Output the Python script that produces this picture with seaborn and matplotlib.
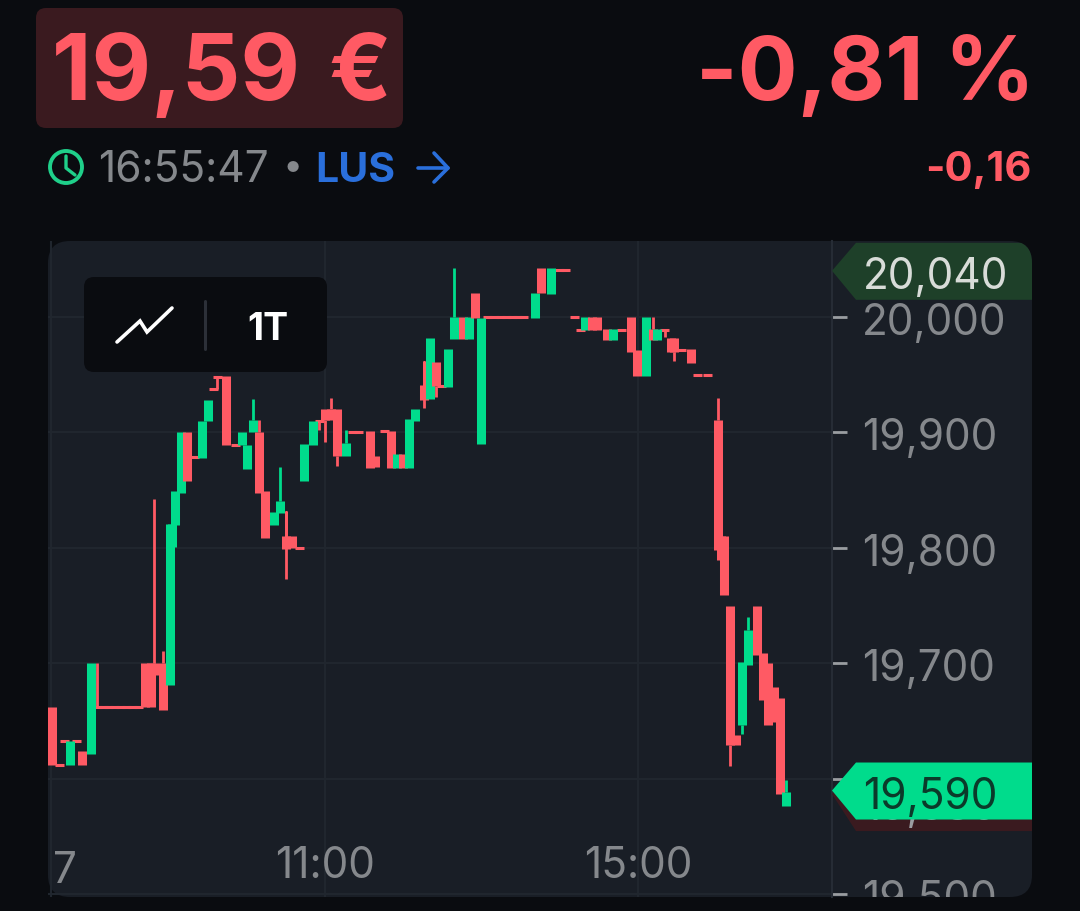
import matplotlib
matplotlib.use("Agg")
import matplotlib.pyplot as plt
from matplotlib.patches import FancyBboxPatch, Polygon, Circle, Rectangle
from matplotlib.transforms import Bbox, TransformedBbox, Affine2D
import pandas as pd
import seaborn as sns

# candles (slot = candle position, left to right)
slots = [0, 1.3, 2, 3, 4, 5, 6.5, 7.5, 8.5, 9.4, 10.4, 11.4, 12.4, 13.4, 14.3, 15.4, 16.4, 16.9, 18.4, 19.5,
         19.9, 20.4, 21.4, 22.4, 23.7, 24.9, 25.9, 26.8, 27.4, 28.9, 30.4, 31.5, 32.3, 33.3, 34.3, 35.4, 36.8, 37.8, 38.8, 39.8,
         41, 41.8, 43.3, 44.3, 45.2, 46.2, 47.2, 48.7, 49.9, 50.9, 52.7, 53.6, 55.1, 56.2, 57.2, 58.2, 59.2, 60.2, 61.7, 62.7,
         63.6, 64.6, 65.6, 66.6, 68.1, 69.2, 70.1, 71.1, 72.3, 73.3, 74.3, 75.3, 76.3, 77.2, 78.2, 80.1, 81.1, 82.8, 84.1, 85.2,
         86.6, 87.6, 88.4, 89.5, 90.4, 92, 93, 94.5, 96, 97, 98.5, 99.6, 100.4, 101.6, 102.7, 103.2, 104.4, 105.9, 107.1, 108.7,
         110.4, 110.9, 111.4, 112.4, 113.4, 114.4, 115.4, 116.9, 117.9, 118.8, 119.8, 120.8, 121.8]
opens = [19662, 19612, 19633, 19612, 19633, 19624, 19622, 19662, 19662, 19662, 19662, 19662, 19662, 19662, 19662, 19700, 19700, 19700, 19700, 19681,
         19801, 19820, 19848, 19900, 19879, 19878, 19910, 19938, 19948, 19949, 19889, 19889, 19868, 19900, 19900, 19849, 19820, 19830, 19810, 19810,
         19800, 19858, 19889, 19910, 19920, 19920, 19920, 19880, 19900, 19900, 19901, 19880, 19901, 19901, 19869, 19881, 19869, 19910, 19941, 19929,
         19961, 19940, 19939, 19981, 20000, 19981, 20021, 19890, 20000, 20000, 20000, 20000, 20000, 20000, 20000, 19999, 20042, 20020, 20041, 20041,
         20000, 19989, 19989, 20000, 20000, 19990, 19980, 19989, 20000, 19971, 19949, 19990, 19980, 19989, 19982, 19982, 19971, 19972, 19950, 19950,
         19911, 19810, 19810, 19750, 19638, 19647, 19699, 19750, 19709, 19700, 19680, 19670, 19577]
closes = [19612, 19612, 19633, 19633, 19633, 19612, 19700, 19662, 19662, 19662, 19662, 19662, 19662, 19662, 19662, 19662, 19662, 19690, 19660, 19821,
          19821, 19849, 19900, 19858, 19879, 19910, 19928, 19938, 19948, 19889, 19889, 19900, 19889, 19911, 19848, 19809, 19831, 19841, 19799, 19800,
          19800, 19890, 19910, 19910, 19911, 19911, 19880, 19891, 19900, 19900, 19869, 19870, 19901, 19869, 19881, 19869, 19912, 19920, 19928, 19982,
          19940, 19940, 19972, 20000, 19981, 20000, 19999, 19999, 20000, 20000, 20000, 20000, 20000, 20000, 20000, 20021, 20021, 20042, 20041, 20041,
          20000, 19989, 20000, 19989, 19989, 19980, 19990, 19989, 19970, 19949, 20000, 19980, 19990, 19989, 19970, 19970, 19971, 19960, 19950, 19950,
          19798, 19790, 19759, 19629, 19629, 19701, 19729, 19707, 19668, 19647, 19649, 19587, 19589]
# wicks, only where one sticks out of the body
high_wicks = {7.5: 19700, 16.9: 19842, 18.4: 19711, 33.3: 19929, 34.3: 19911, 37.8: 19870, 38.8: 19831,
              46.2: 19930, 48.7: 19902, 61.7: 19961, 66.6: 20042, 99.6: 20000, 110.4: 19930, 115.4: 19740, 121.8: 19599}
low_wicks = {27.4: 19938, 38.8: 19773, 44.3: 19902, 45.2: 19892, 47.2: 19871, 61.7: 19921, 63.6: 19931,
             101.6: 19983, 103.2: 19962, 112.4: 19611, 114.4: 19639}

price_ticks = [19500, 19600, 19700, 19800, 19900, 20000]
price_labels = ["19,500", "19,600", "19,700", "19,800", "19,900", "20,000"]
time_ticks = [45.27, 97.18]
time_labels = ["11:00", "15:00"]

last_price = 19590
prev_tag_price = 19580
top_tag_price = 20040

UP = "#00dc8c"
DOWN = "#ff5a64"
BG = "#0a0c10"
PANEL = "#191e26"
GRID = "#20262e"
GREY = "#85888c"
LABEL_SIZE = 30.5

sns.set_theme(style="dark")
plt.rcParams["font.family"] = ["Inter", "DejaVu Sans"]

fig = plt.figure(figsize=(10.8, 9.11), dpi=100, facecolor=BG)

# pixel-space layers behind and in front of the chart
back = fig.add_axes([0, 0, 1, 1], zorder=0)
ui = fig.add_axes([0, 0, 1, 1], zorder=2)
for layer in (back, ui):
    layer.set_xlim(0, 1080)
    layer.set_ylim(911, 0)
    layer.axis("off")
    layer.patch.set_alpha(0)

panel = FancyBboxPatch((48 + 22, 241 + 22), 984 - 44, 656 - 44, boxstyle="round,pad=22,rounding_size=22",
                       fc=PANEL, ec="none")
back.add_patch(panel)

ax = fig.add_axes([48 / 1080, 14 / 911, 784 / 1080, 656 / 911], zorder=1)
ax.patch.set_alpha(0)

wick_rows = []
doji_rows = []
body_rows = []
palette = {}
for i, (s, o, c) in enumerate(zip(slots, opens, closes)):
    palette[i] = UP if c > o else DOWN
    if o == c:
        doji_rows += [(i, s - 0.75, o), (i, s + 0.75, o)]
    else:
        body_rows += [(i, s, o), (i, s, c)]
    if s in high_wicks:
        wick_rows += [(i, s, max(o, c)), (i, s, high_wicks[s])]
    if s in low_wicks:
        wick_rows += [(i, s, min(o, c)), (i, s, low_wicks[s])]

for rows, width in ((wick_rows, 2.0), (doji_rows, 2.2), (body_rows, 6.5)):
    table = pd.DataFrame(rows, columns=["candle", "slot", "price"])
    sns.lineplot(data=table, x="slot", y="price", hue="candle", palette=palette, estimator=None, sort=False,
                 legend=False, linewidth=width, solid_capstyle="butt", ax=ax)

ax.set_xlim(-0.66, 129.35)
ax.set_ylim(19497.8, 20065.8)
ax.set_xlabel("")
ax.set_ylabel("")
ax.yaxis.tick_right()
ax.set_yticks(price_ticks, labels=price_labels)
ax.set_xticks(time_ticks, labels=time_labels)
ax.grid(True, color=GRID, linewidth=1.5)
ax.axvline(-0.1, color=GRID, linewidth=1.5, zorder=0.5)
ax.set_axisbelow(True)
for name, spine in ax.spines.items():
    spine.set_visible(name == "right")
    spine.set_color("#262c35")
    spine.set_linewidth(1.5)
ax.tick_params(axis="y", length=10.5, width=2, color="#9a9da1", pad=11, labelsize=LABEL_SIZE, labelcolor=GREY)
ax.tick_params(axis="x", direction="in", length=6, width=2, color="#9a9da1", pad=-37, labelsize=LABEL_SIZE, labelcolor=GREY)
for label in ax.get_yticklabels():
    label.set_transform(label.get_transform() + Affine2D().translate(0, -2))


def price_y(price):
    return 911 - ax.transData.transform((0, price))[1]


def tag_shape(y, up, down, color, z):
    patch = Polygon([(832, y), (856, y - up), (1032, y - up), (1032, y + down), (856, y + down)],
                    fc=color, ec="none", zorder=z)
    ui.add_patch(patch)
    patch.set_clip_path(panel)


# header
ui.add_patch(FancyBboxPatch((46, 18), 347, 100, boxstyle="round,pad=10,rounding_size=10", fc="#3a1a1f", ec="none"))
ui.text(52, 100, "19,59 \u200a€", color=DOWN, fontsize=66, fontweight="bold", ha="left", va="baseline")
ui.text(1035, 100, "-0,81 %", color=DOWN, fontsize=64, fontweight="bold", ha="right", va="baseline")
ui.text(1032, 181, "-0,16", color=DOWN, fontsize=30, fontweight="bold", ha="right", va="baseline")
ui.add_patch(Circle((66, 167), 16, fc="none", ec="#1fd08a", lw=2.8))
ui.plot([66, 66, 75], [156, 168, 175], color="#1fd08a", lw=2.4)
ui.text(98, 182, "16:55:47", color=GREY, fontsize=30.5, ha="left", va="baseline")
ui.text(293, 168, "•", color=GREY, fontsize=26, ha="center", va="center")
ui.text(315, 182, "LUS", color="#2a6fdb", fontsize=29.5, fontweight="bold", ha="left", va="baseline")
ui.plot([418, 448], [168, 168], color="#2a6fdb", lw=2.6)
ui.plot([434, 448, 434], [153, 168, 182], color="#2a6fdb", lw=2.6)

# chart type box
ui.add_patch(FancyBboxPatch((94, 287), 223, 75, boxstyle="round,pad=10,rounding_size=10", fc=BG, ec="none"))
ui.plot([117, 140, 147, 172], [342, 321, 332, 308], color="white", lw=2.6, solid_joinstyle="miter")
ui.plot([205, 205], [301, 349], color="#2c3038", lw=2.2)
ui.text(268, 326, "1T", color="white", fontsize=27, fontweight="bold", ha="center", va="center_baseline")

# first x label, cut by the plot's left edge
ui.text(53, 883, "7", color=GREY, fontsize=LABEL_SIZE, ha="left", va="baseline")

# the lowest price label runs off the rounded panel
ui.add_patch(Rectangle((850, 897), 170, 14, fc=BG, ec="none", zorder=2))

# price tags on the axis
label_clip = TransformedBbox(Bbox([[855, 0], [1008, 911]]), ui.transData)

top_y = price_y(top_tag_price)
tag_shape(top_y, 28, 29, "#1e4029", 3)
top_text = ui.text(863, top_y + 18, "20,040", color="#d8dcd8", fontsize=LABEL_SIZE, ha="left", va="baseline", zorder=4)
top_text.set_clip_box(label_clip)
top_text.set_clip_on(True)

prev_y = price_y(prev_tag_price)
tag_shape(prev_y - 8, 28, 37, "#3a1a1f", 3)
ui.text(863, prev_y + 18, "19,580", color="#9a9da1", fontsize=LABEL_SIZE, ha="left", va="baseline", zorder=4)

last_y = price_y(last_price)
tag_shape(last_y, 28, 29, UP, 5)
ui.text(863, last_y + 18, "19,590", color="#0b3a2a", fontsize=LABEL_SIZE, ha="left", va="baseline", zorder=6)

fig.savefig("out.png", dpi=100, facecolor=BG)
